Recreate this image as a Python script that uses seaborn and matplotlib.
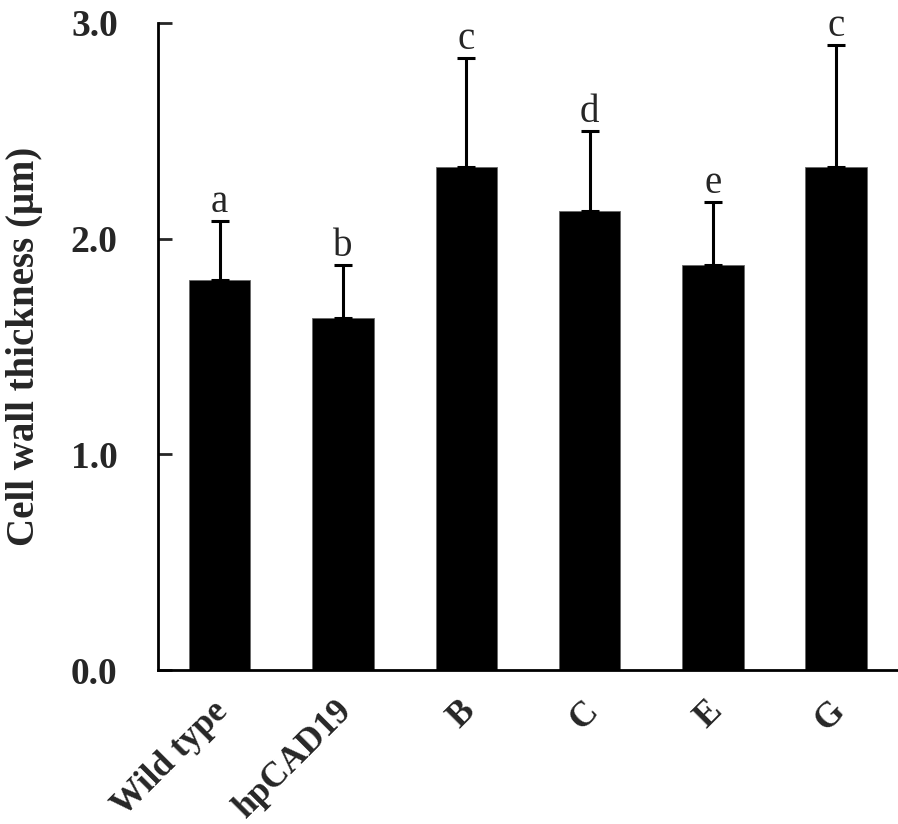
import matplotlib
matplotlib.use("Agg")
import matplotlib.pyplot as plt
import matplotlib.transforms as mtransforms
import seaborn as sns
import pandas as pd

categories = ["Wild type", "hpCAD19", "B", "C", "E", "G"]
means = [1.81, 1.63, 2.33, 2.13, 1.88, 2.33]
errors = [0.27, 0.25, 0.51, 0.37, 0.29, 0.57]
letters = ["a", "b", "c", "d", "e", "c"]
yticks = [0.0, 1.0, 2.0, 3.0]

sns.set_style("white")
plt.rcParams["font.family"] = ["Liberation Serif", "DejaVu Serif"]

df = pd.DataFrame({"group": categories, "value": means})

fig = plt.figure(figsize=(8.98, 8.24), dpi=100)
ax = fig.add_axes([158/898, 1 - 670/824, (898-158)/898, (670-23)/824])

sns.barplot(data=df, x="group", y="value", color="black", width=0.5,
            saturation=1, edgecolor="#666666", linewidth=0.6, ax=ax, errorbar=None)
for p in ax.patches:
    p.set_facecolor("black")

xs = list(range(len(categories)))
ax.errorbar(xs, means, yerr=[[0]*len(errors), errors], fmt="none",
            ecolor="black", elinewidth=2.2, capsize=6.5, capthick=2.2)
for x, m, e, l in zip(xs, means, errors, letters):
    ax.text(x, m + e + 0.0, l, ha="center", va="bottom", fontsize=28)

ax.set_xlim(-0.5, 5.5)
ax.set_ylim(0, 3.0)
ax.set_yticks(yticks)
ax.set_yticklabels([f"{t:.1f}" for t in yticks], fontsize=27, fontweight="bold")
ax.tick_params(axis="y", direction="in", length=10, width=2, left=True, pad=29)
ax.tick_params(axis="x", length=0, pad=18)
ax.set_xticks(xs)
ax.set_xticklabels(categories, fontsize=25.5, fontweight="bold", rotation=45,
                   ha="right", rotation_mode="anchor")
offset = mtransforms.ScaledTranslation(-8/100, 0, fig.dpi_scale_trans)
for lbl in ax.get_xticklabels():
    lbl.set_transform(lbl.get_transform() + offset)
ax.set_xlabel("")
ax.set_ylabel("Cell wall thickness (μm)", fontsize=28, fontweight="bold", labelpad=20)
for s in ["top", "right"]:
    ax.spines[s].set_visible(False)
for s in ["left", "bottom"]:
    ax.spines[s].set_linewidth(2)
    ax.spines[s].set_color("black")

fig.savefig("out.png", dpi=100)
